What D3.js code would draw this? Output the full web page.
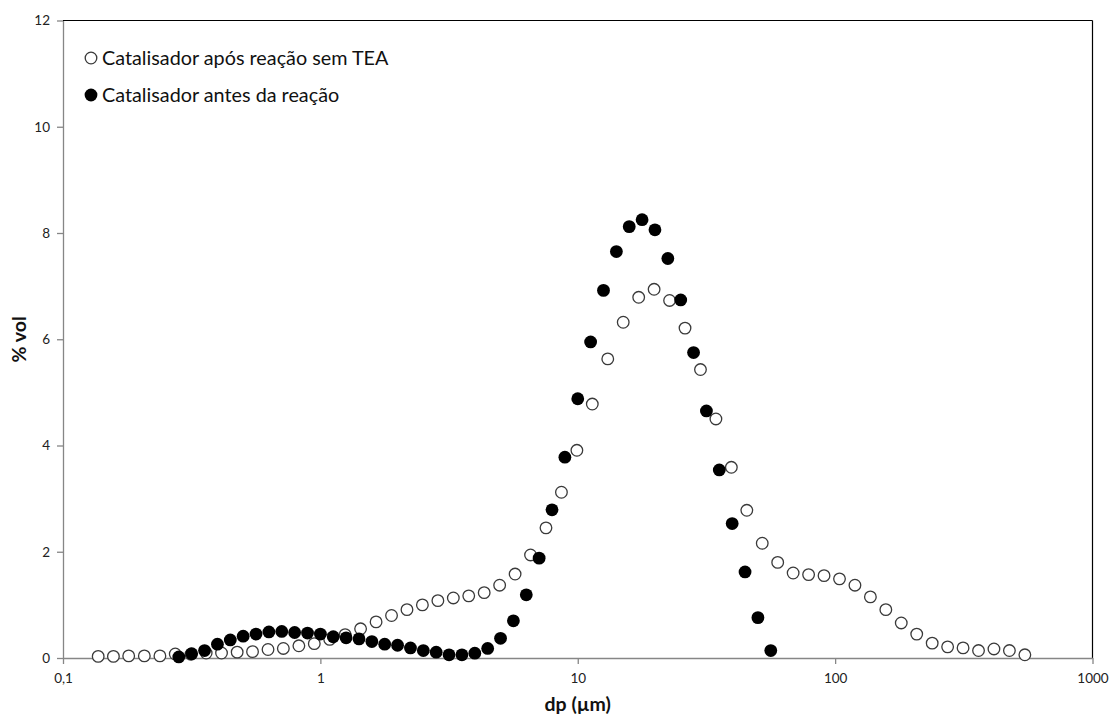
<!DOCTYPE html>
<html>
<head>
<meta charset="utf-8">
<script src="https://cdn.jsdelivr.net/npm/d3@7"></script>
<style>
  html, body { margin: 0; padding: 0; background: #fff; }
  svg { display: block; font-family: Lato, "Open Sans", sans-serif; }
</style>
</head>
<body>
<svg id="chart" width="1110" height="716"></svg>
<script>
// ---- Data ----
const seriesNames = ["Catalisador após reação sem TEA", "Catalisador antes da reação"];

// Series 1: open circles
const afterX = [0.137, 0.157, 0.180, 0.207, 0.238, 0.273, 0.314, 0.360, 0.413, 0.475,
  0.545, 0.626, 0.718, 0.825, 0.947, 1.087, 1.248, 1.433, 1.646, 1.890,
  2.170, 2.491, 2.861, 3.285, 3.771, 4.330, 4.972, 5.709, 6.555, 7.526,
  8.642, 9.923, 11.39, 13.08, 15.02, 17.25, 19.80, 22.74, 26.11, 29.98,
  34.42, 39.52, 45.38, 52.10, 59.82, 68.69, 78.87, 90.56, 104.0, 119.4,
  137.1, 157.4, 180.7, 207.5, 238.3, 273.6, 314.1, 360.7, 414.1, 475.5, 546.0];
const afterY = [0.03, 0.03, 0.04, 0.04, 0.04, 0.075, 0.07, 0.094, 0.094, 0.11,
  0.12, 0.16, 0.18, 0.23, 0.27, 0.35, 0.44, 0.55, 0.68, 0.80,
  0.91, 1.00, 1.08, 1.13, 1.17, 1.23, 1.37, 1.58, 1.94, 2.45,
  3.12, 3.91, 4.78, 5.63, 6.32, 6.79, 6.94, 6.73, 6.21, 5.43,
  4.50, 3.59, 2.78, 2.16, 1.80, 1.60, 1.57, 1.55, 1.49, 1.37,
  1.15, 0.91, 0.66, 0.45, 0.28, 0.21, 0.19, 0.14, 0.17, 0.14, 0.06];

// Series 2: filled circles
const beforeX = [0.2818, 0.3162, 0.3548, 0.3981, 0.4467, 0.5012, 0.5623, 0.6310, 0.7079, 0.7943,
  0.8913, 1.000, 1.122, 1.259, 1.413, 1.585, 1.778, 1.995, 2.239, 2.512,
  2.818, 3.162, 3.548, 3.981, 4.467, 5.012, 5.623, 6.310, 7.079, 7.943,
  8.913, 10.00, 11.22, 12.59, 14.13, 15.85, 17.78, 19.95, 22.39, 25.12,
  28.18, 31.62, 35.48, 39.81, 44.67, 50.12, 56.23];
const beforeY = [0.02, 0.08, 0.14, 0.26, 0.34, 0.41, 0.45, 0.49, 0.50, 0.48,
  0.47, 0.45, 0.40, 0.38, 0.36, 0.31, 0.26, 0.24, 0.19, 0.14,
  0.11, 0.06, 0.06, 0.09, 0.18, 0.37, 0.70, 1.19, 1.88, 2.79,
  3.78, 4.88, 5.95, 6.92, 7.65, 8.12, 8.25, 8.06, 7.52, 6.74,
  5.75, 4.65, 3.54, 2.53, 1.62, 0.76, 0.14];

const xTickValues = [0.1, 1, 10, 100, 1000];
const xTickLabels = ["0,1", "1", "10", "100", "1000"];
const yTickValues = [0, 2, 4, 6, 8, 10, 12];
const xTitle = "dp (µm)";
const yTitle = "% vol";

// ---- Layout ----
const W = 1110, H = 716;
const margin = { left: 63, right: 17.5, top: 20.5, bottom: 58 };
const iw = W - margin.left - margin.right;
const ih = H - margin.top - margin.bottom;

const svg = d3.select("#chart");
const g = svg.append("g").attr("transform", `translate(${margin.left},${margin.top})`);

const x = d3.scaleLog().domain([0.1, 1000]).range([0, iw]);
const y = d3.scaleLinear().domain([0, 12]).range([ih, 0]);

// frame: top & right dark lines
g.append("line").attr("x1", 0).attr("x2", iw).attr("y1", 0).attr("y2", 0)
  .attr("stroke", "#000").attr("stroke-width", 1.2);
g.append("line").attr("x1", iw).attr("x2", iw).attr("y1", 0).attr("y2", ih)
  .attr("stroke", "#000").attr("stroke-width", 1.2);

// axes
const xAxis = d3.axisBottom(x).tickValues(xTickValues)
  .tickFormat((d, i) => xTickLabels[i]).tickSize(6).tickSizeOuter(0);
const yAxis = d3.axisLeft(y).tickValues(yTickValues).tickSize(6).tickSizeOuter(0);

const gx = g.append("g").attr("transform", `translate(0,${ih})`).call(xAxis);
const gy = g.append("g").call(yAxis);
[gx, gy].forEach(a => {
  a.select(".domain").attr("stroke", "#868686").attr("stroke-width", 1.3);
  a.selectAll(".tick line").attr("stroke", "#868686").attr("stroke-width", 1.3);
  a.selectAll(".tick text").attr("fill", "#222").style("font-size", "13.5px")
    .style("font-family", "Lato, 'Open Sans', sans-serif");
});
gx.selectAll(".tick text").attr("dy", "1.2em");
gy.selectAll(".tick text").attr("x", -13);

// axis titles
svg.append("text").attr("x", margin.left + x(10)).attr("y", 711)
  .attr("text-anchor", "middle").style("font-size", "19.5px").style("font-weight", "bold")
  .attr("fill", "#111").text(xTitle);
svg.append("text").attr("transform", `translate(26,${margin.top + ih / 2}) rotate(-90)`)
  .attr("text-anchor", "middle").style("font-size", "19.5px").style("font-weight", "bold")
  .attr("fill", "#111").text(yTitle);

// data
const after = afterX.map((v, i) => ({ x: v, y: afterY[i] }));
const before = beforeX.map((v, i) => ({ x: v, y: beforeY[i] }));
const R = 5.8;

g.append("g").selectAll("circle").data(after).join("circle")
  .attr("cx", d => x(d.x)).attr("cy", d => y(d.y)).attr("r", R)
  .attr("fill", "#fff").attr("stroke", "#3a3a3a").attr("stroke-width", 1.3);

g.append("g").selectAll("circle").data(before).join("circle")
  .attr("cx", d => x(d.x)).attr("cy", d => y(d.y)).attr("r", R + 0.6)
  .attr("fill", "#000");

// legend
const leg = svg.append("g");
const legItems = [
  { name: seriesNames[0], yy: 58, open: true },
  { name: seriesNames[1], yy: 95, open: false }
];
legItems.forEach(it => {
  const c = leg.append("circle").attr("cx", 91).attr("cy", it.yy).attr("r", it.open ? R : R + 0.6);
  if (it.open) c.attr("fill", "#fff").attr("stroke", "#3a3a3a").attr("stroke-width", 1.3);
  else c.attr("fill", "#000");
  leg.append("text").attr("x", 102).attr("y", it.yy + 7)
    .style("font-size", "19.8px").attr("fill", "#111").text(it.name);
});
</script>
</body>
</html>
